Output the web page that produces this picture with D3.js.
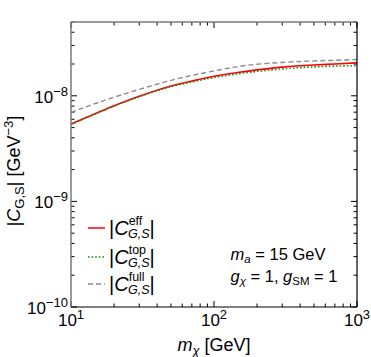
<!DOCTYPE html>
<html lang="en">
<head>
<meta charset="UTF-8">
<title>C_GS vs m_chi</title>
<style>
  body { margin: 0; background: #fff; }
  svg { font-family: "Liberation Sans", Arial, sans-serif; }
</style>
</head>
<body>
<div id="chart"></div>
<script src="https://d3js.org/d3.v7.min.js"></script>
<script>
// dark matter mass (GeV)
const mChi = [10, 15, 20, 30, 50, 70, 100, 150, 200, 300, 500, 700, 1000]
// |C_G,S| in GeV^-3
const cEff  = [5.41e-9, 6.84e-9, 8.05e-9, 9.9e-9, 1.24e-8, 1.38e-8, 1.53e-8, 1.67e-8, 1.76e-8, 1.87e-8, 1.96e-8, 2.00e-8, 2.05e-8]
const cTop  = [5.35e-9, 6.78e-9, 7.98e-9, 9.8e-9, 1.22e-8, 1.35e-8, 1.49e-8, 1.62e-8, 1.70e-8, 1.80e-8, 1.88e-8, 1.91e-8, 1.93e-8]
const cFull = [6.95e-9, 8.5e-9, 9.7e-9, 1.15e-8, 1.40e-8, 1.56e-8, 1.72e-8, 1.90e-8, 1.99e-8, 2.07e-8, 2.14e-8, 2.17e-8, 2.21e-8]
const xTicks = [1, 2, 3]
const yTicks = [-10, -9, -8]

const W = 371, H = 357
const margin = { top: 22, right: 14, bottom: 50, left: 71 }

const svg = d3.select('#chart').append('svg')
    .attr('width', W).attr('height', H)

const x = d3.scaleLog().domain([10, 1000]).range([margin.left, W - margin.right])
const y = d3.scaleLog().domain([1e-10, 5e-8]).range([H - margin.bottom, margin.top])

const x0 = x.range()[0], x1 = x.range()[1]
const y0 = y.range()[0], y1 = y.range()[1]

// minor ticks
const xMinor = []
for (let e = 1; e < 3; e++) for (let k = 2; k <= 9; k++) xMinor.push(k * Math.pow(10, e))
const yMinor = []
for (let e = -10; e < -7; e++) for (let k = 2; k <= 9; k++) {
    const v = k * Math.pow(10, e)
    if (v <= 5e-8) yMinor.push(v)
}

const ticks = svg.append('g').attr('stroke', '#000').attr('stroke-width', 1)
xTicks.forEach(e => {
    const px = x(Math.pow(10, e))
    ticks.append('line').attr('x1', px).attr('x2', px).attr('y1', y0).attr('y2', y0 - 6)
    ticks.append('line').attr('x1', px).attr('x2', px).attr('y1', y1).attr('y2', y1 + 6)
})
xMinor.forEach(v => {
    const px = x(v)
    ticks.append('line').attr('x1', px).attr('x2', px).attr('y1', y0).attr('y2', y0 - 3.5)
    ticks.append('line').attr('x1', px).attr('x2', px).attr('y1', y1).attr('y2', y1 + 3.5)
})
yTicks.forEach(e => {
    const py = y(Math.pow(10, e))
    ticks.append('line').attr('x1', x0).attr('x2', x0 + 6).attr('y1', py).attr('y2', py)
    ticks.append('line').attr('x1', x1).attr('x2', x1 - 6).attr('y1', py).attr('y2', py)
})
yMinor.forEach(v => {
    const py = y(v)
    ticks.append('line').attr('x1', x0).attr('x2', x0 + 3.5).attr('y1', py).attr('y2', py)
    ticks.append('line').attr('x1', x1).attr('x2', x1 - 3.5).attr('y1', py).attr('y2', py)
})

// curves
const line = vals => d3.line()
    .x((d, i) => x(mChi[i]))
    .y(d => y(d))
    .curve(d3.curveMonotoneX)(vals)

const plot = svg.append('g')
plot.append('path').attr('d', line(cEff)).attr('fill', 'none')
    .attr('stroke', '#ff0000').attr('stroke-width', 1.6)
plot.append('path').attr('d', line(cTop)).attr('fill', 'none')
    .attr('stroke', '#1a8c1a').attr('stroke-width', 1.6).attr('stroke-dasharray', '1.6,2')
plot.append('path').attr('d', line(cFull)).attr('fill', 'none')
    .attr('stroke', '#8c8c8c').attr('stroke-width', 1.4).attr('stroke-dasharray', '5,3')

// frame
svg.append('line').attr('x1', x0).attr('x2', x0).attr('y1', y0).attr('y2', y1).attr('stroke', '#7a7a7a').attr('stroke-width', 1.5)
svg.append('line').attr('x1', x0).attr('x2', x1).attr('y1', y1).attr('y2', y1).attr('stroke', '#7a7a7a').attr('stroke-width', 1.5)
svg.append('line').attr('x1', x1).attr('x2', x1).attr('y1', y0).attr('y2', y1).attr('stroke', '#000').attr('stroke-width', 1.2)
svg.append('line').attr('x1', x0).attr('x2', x1).attr('y1', y0).attr('y2', y0).attr('stroke', '#000').attr('stroke-width', 1.2)

// tick labels
const fs = 17, sfs = 13
xTicks.forEach(e => {
    const t = svg.append('text').attr('x', x(Math.pow(10, e))).attr('y', y0 + 19)
        .attr('text-anchor', 'middle').attr('font-size', fs)
    t.append('tspan').text('10')
    t.append('tspan').attr('font-size', sfs).attr('dy', -7).text(e)
})
yTicks.forEach(e => {
    const t = svg.append('text').attr('x', x0 - 3).attr('y', y(Math.pow(10, e)) + 7)
        .attr('text-anchor', 'end').attr('font-size', fs)
    t.append('tspan').text('10')
    t.append('tspan').attr('font-size', sfs).attr('dy', -7).text('\u2212' + (-e))
})

// axis titles
const xl = svg.append('text').attr('x', 214).attr('y', 351)
    .attr('text-anchor', 'middle').attr('font-size', 18)
xl.append('tspan').attr('font-style', 'italic').text('m')
xl.append('tspan').attr('font-style', 'italic').attr('font-size', sfs).attr('dy', 4).text('\u03c7')
xl.append('tspan').attr('dy', -4).text(' [GeV]')

const yl = svg.append('text').attr('transform', 'translate(20, 171) rotate(-90)')
    .attr('text-anchor', 'middle').attr('font-size', 18)
yl.append('tspan').text('|')
yl.append('tspan').attr('font-style', 'italic').text('C')
yl.append('tspan').attr('font-size', sfs).attr('dy', 4).text('G,S')
yl.append('tspan').attr('dy', -4).text('| [GeV')
yl.append('tspan').attr('font-size', sfs).attr('dy', -7).text('\u22123')
yl.append('tspan').attr('dy', 7).text(']')

// legend
const legendRows = [
    { sup: 'eff', color: '#ff0000', dash: null, y: 228 },
    { sup: 'top', color: '#1a8c1a', dash: '1.6,2', y: 257 },
    { sup: 'full', color: '#8c8c8c', dash: '5,3', y: 284 }
]
legendRows.forEach(d => {
    svg.append('line').attr('x1', 88).attr('x2', 105).attr('y1', d.y).attr('y2', d.y)
        .attr('stroke', d.color).attr('stroke-width', 1.5)
        .attr('stroke-dasharray', d.dash)
    const t = svg.append('text').attr('x', 109).attr('y', d.y + 7).attr('font-size', 20)
    t.append('tspan').text('|')
    t.append('tspan').attr('font-style', 'italic').text('C')
    t.append('tspan').attr('font-size', 12.5).attr('dy', -10).text(d.sup)
    t.append('tspan').attr('font-size', 12.5).attr('font-style', 'italic')
        .attr('x', 128).attr('dy', 13).text('G,S')
    t.append('tspan').attr('dy', -3).text('|')
})

// annotation
const a1 = svg.append('text').attr('x', 278).attr('y', 260).attr('text-anchor', 'middle').attr('font-size', 16.5)
a1.append('tspan').attr('font-style', 'italic').text('m')
a1.append('tspan').attr('font-size', 11.5).attr('font-style', 'italic').attr('dy', 3).text('a')
a1.append('tspan').attr('dy', -3).text(' = 15 GeV')
const a2 = svg.append('text').attr('x', 284).attr('y', 282).attr('text-anchor', 'middle').attr('font-size', 16.5)
a2.append('tspan').attr('font-style', 'italic').text('g')
a2.append('tspan').attr('font-size', 11.5).attr('font-style', 'italic').attr('dy', 3).text('\u03c7')
a2.append('tspan').attr('dy', -3).text(' = 1, ')
a2.append('tspan').attr('font-style', 'italic').text('g')
a2.append('tspan').attr('font-size', 11.5).attr('dy', 3).text('SM')
a2.append('tspan').attr('dy', -3).text(' = 1')
</script>
</body>
</html>
